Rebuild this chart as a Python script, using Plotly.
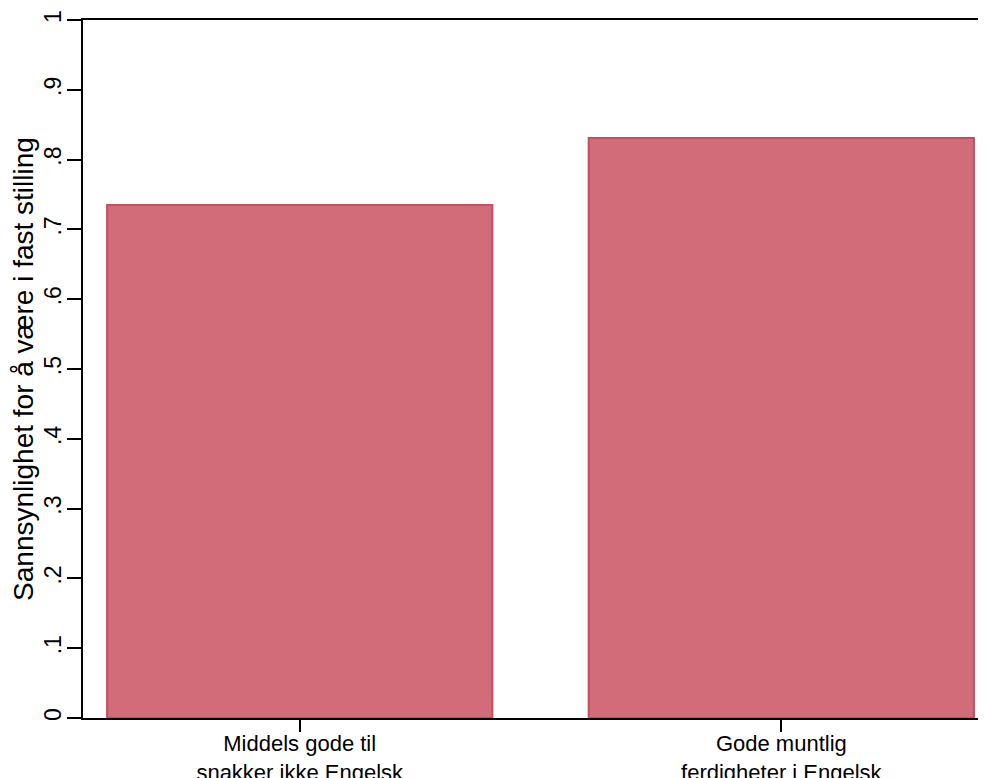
import plotly.graph_objects as go

categories = ["Middels gode til<br>snakker ikke Engelsk", "Gode muntlig<br>ferdigheter i Engelsk"]
values = [0.735, 0.831]
ytick_vals = [0, 0.1, 0.2, 0.3, 0.4, 0.5, 0.6, 0.7, 0.8, 0.9, 1]
ytick_text = ["0", ".1", ".2", ".3", ".4", ".5", ".6", ".7", ".8", ".9", "1"]

fig = go.Figure(go.Bar(
    x=[0, 1], y=values, width=0.8,
    marker=dict(color="rgb(210,108,121)", line=dict(color="rgb(200,78,94)", width=2)),
))

font = "Liberation Sans, Arial, sans-serif"
fig.update_layout(
    width=978, height=770,
    margin=dict(l=75, r=0, t=12, b=60),
    plot_bgcolor="white", paper_bgcolor="white",
    font=dict(family=font, color="black"),
    showlegend=False,
)
fig.update_xaxes(
    range=[-0.45, 1.425], tickvals=[0, 1], ticktext=categories,
    showline=True, linecolor="black", linewidth=2, mirror=True,
    ticks="outside", ticklen=12, tickwidth=1.5, tickcolor="black",
    tickfont=dict(size=22), showgrid=False, zeroline=False,
    automargin=False, ticklabelstandoff=-7,
)
fig.update_yaxes(
    range=[0, 1.0], tickvals=ytick_vals, ticktext=ytick_text,
    showline=True, linecolor="black", linewidth=2, mirror=False,
    ticks="outside", ticklen=14, tickwidth=1.5, tickcolor="black",
    tickangle=-90, tickfont=dict(size=23), showgrid=False, zeroline=False,
    automargin=False, ticklabelstandoff=-3,
    title=dict(text="Sannsynlighet for å være i fast stilling", font=dict(size=28), standoff=12),
)
fig.write_html("out.html")
